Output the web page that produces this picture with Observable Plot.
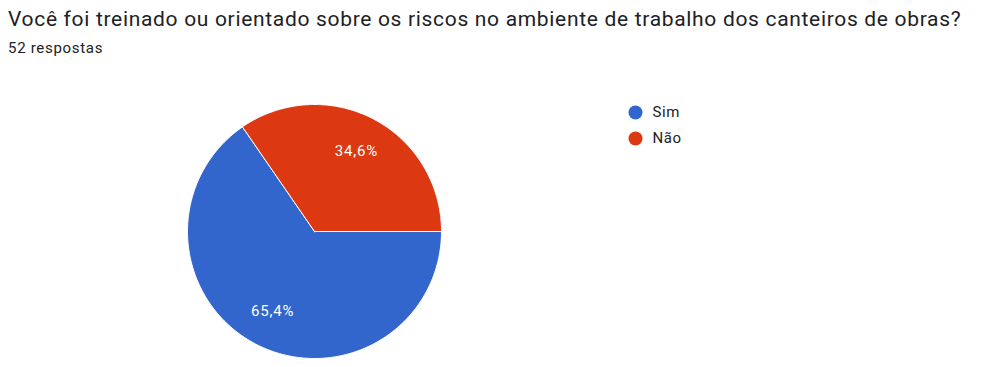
<!DOCTYPE html>
<html>
<head>
<meta charset="utf-8">
<script src="https://cdn.jsdelivr.net/npm/d3@7"></script>
<script src="https://cdn.jsdelivr.net/npm/@observablehq/plot@0.6"></script>
<style>
  html, body { margin: 0; padding: 0; background: #fff; }
  #wrap { position: relative; width: 982px; height: 367px; overflow: hidden; font-family: Roboto, "Noto Sans", sans-serif; }
  #title { position: absolute; left: 8px; top: 7px; font-size: 21px; color: #202124; white-space: nowrap; letter-spacing: 0.68px; }
  #subtitle { position: absolute; left: 8px; top: 39px; font-size: 15px; color: #202124; white-space: nowrap; letter-spacing: 0.7px; }
  #chart { position: absolute; left: 0; top: 0; }
</style>
</head>
<body>
<div id="wrap">
  <div id="chart"></div>
  <div id="title">Você foi treinado ou orientado sobre os riscos no ambiente de trabalho dos canteiros de obras?</div>
  <div id="subtitle">52 respostas</div>
</div>
<script>
const categories = ["Sim", "Não"];
const values = [65.4, 34.6];
const labels = ["65,4%", "34,6%"];
const colors = ["#3366cc", "#dc3912"];

const W = 982, H = 367;
const cx = 314, cy = 231, r = 127;

const pie = d3.pie().sort(null).value(d => d.value).startAngle(Math.PI / 2).endAngle(Math.PI / 2 + 2 * Math.PI);
const arcs = pie(categories.map((c, i) => ({ category: c, value: values[i], label: labels[i] })));

const slicePts = [];
arcs.forEach(a => {
  const n = 240;
  slicePts.push({ category: a.data.category, x: cx, y: cy });
  for (let k = 0; k <= n; k++) {
    const t = a.startAngle + (a.endAngle - a.startAngle) * k / n;
    slicePts.push({ category: a.data.category, x: cx + r * Math.sin(t), y: cy - r * Math.cos(t) });
  }
  slicePts.push({ category: a.data.category, x: cx, y: cy });
});

const labelPts = arcs.map(a => {
  const m = (a.startAngle + a.endAngle) / 2;
  const lr = r * 0.71;
  return { text: a.data.label, x: cx + lr * Math.sin(m), y: cy - lr * Math.cos(m) };
});

const legend = categories.map((c, i) => ({ category: c, x: 635, y: 112 + i * 26 }));

const chart = Plot.plot({
  width: W, height: H,
  margin: 0,
  x: { domain: [0, W], range: [0, W], axis: null },
  y: { domain: [0, H], range: [0, H], axis: null },
  color: { domain: categories, range: colors },
  style: { fontFamily: "Roboto, 'Noto Sans', sans-serif", background: "transparent" },
  marks: [
    Plot.line(slicePts, { x: "x", y: "y", z: "category", fill: "category", stroke: "#ffffff", strokeWidth: 1, curve: "linear-closed" }),
    Plot.text(labelPts, { x: "x", y: "y", text: "text", fill: "#ffffff", fontSize: 15, style: "letter-spacing: 0.8px" }),
    Plot.dot(legend, { x: "x", y: "y", r: 7, fill: "category" }),
    Plot.text(legend, { x: d => d.x + 17, y: "y", text: "category", textAnchor: "start", fill: "#222222", fontSize: 15, style: "letter-spacing: 0.6px" })
  ]
});
chart.querySelectorAll("text").forEach(t => { if (t.textContent.includes("%")) t.style.letterSpacing = "0.8px"; else t.style.letterSpacing = "0.6px"; });
document.getElementById("chart").appendChild(chart);
</script>
</body>
</html>
